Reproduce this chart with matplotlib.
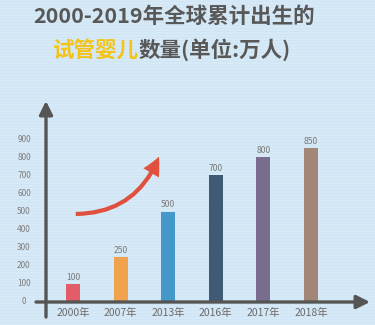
import matplotlib.pyplot as plt
from matplotlib.patches import FancyArrowPatch

plt.rcParams['font.family'] = ['Noto Sans CJK SC', 'DejaVu Sans']

# data
years = ['2000年', '2007年', '2013年', '2016年', '2017年', '2018年']
babies = [100, 250, 500, 700, 800, 850]
colors = ['#e35d68', '#f0a24c', '#4599ca', '#3f5a74', '#786c8f', '#a28676']
yticks = [0, 100, 200, 300, 400, 500, 600, 700, 800, 900]

W, H = 375, 325
bg = '#d6e9f6'
fig = plt.figure(figsize=(W / 100, H / 100), dpi=100)
fig.patch.set_facecolor(bg)

# faint horizontal stripes like the original background
stripes = fig.add_axes([0, 0, 1, 1])
stripes.set_xlim(0, 1)
stripes.set_ylim(0, H)
for yy in range(0, H, 3):
    stripes.axhline(yy, color='#cfe3f2', lw=0.5)
stripes.axis('off')

# axes area: x px 36..370, y px 101..317
ax = fig.add_axes([36 / W, 1 - 317 / H, 334 / W, 216 / H])
ax.set_facecolor('none')
step = 47.6
x0 = 73
ax.set_xlim((36 - x0) / step, (370 - x0) / step)
ax.set_ylim(-(317 - 302) / 0.181, (302 - 101) / 0.181)
for s in ax.spines.values():
    s.set_visible(False)
ax.set_xticks([])
ax.set_yticks([])

xs = list(range(len(years)))
ax.bar(xs, babies, width=0.29, color=colors, zorder=3)

for x, v in zip(xs, babies):
    ax.text(x, v + 12, str(v), ha='center', va='bottom', fontsize=6.2, color='#7a7a7a')
    ax.text(x, -60, years[x], ha='center', va='center', fontsize=7.5, color='#6a6a6a')

ylab_x = (24 - x0) / step
for t in yticks:
    ax.text(ylab_x, t, str(t), ha='center', va='center', fontsize=6, color='#7f7f7f')

# axis lines with arrows
xl, xr = ax.get_xlim()
yb, yt = ax.get_ylim()
yaxis_x = (46 - x0) / step
ax.annotate('', xy=(xr, 0), xytext=(xl, 0),
            arrowprops=dict(arrowstyle='-|>,head_length=0.8,head_width=0.4',
                            color='#555555', lw=2.4, shrinkA=0, shrinkB=0), zorder=4)
ax.annotate('', xy=(yaxis_x, yt), xytext=(yaxis_x, yb),
            arrowprops=dict(arrowstyle='-|>,head_length=0.8,head_width=0.4',
                            color='#555555', lw=2.4, shrinkA=0, shrinkB=0), zorder=4)

# red growth arrow
arr = FancyArrowPatch(((73 - x0) / step, (302 - 214) / 0.181),
                      ((160 - x0) / step, (302 - 154) / 0.181),
                      connectionstyle='arc3,rad=0.35',
                      arrowstyle='simple,head_length=13,head_width=13,tail_width=3',
                      color='#e0503e', lw=0, zorder=5)
ax.add_patch(arr)

# title
fig.text(174 / W, 1 - 16 / H, '2000-2019年全球累计出生的', ha='center', va='center',
         fontsize=15.5, fontweight='bold', color='#585858')
fig.text(139 / W, 1 - 50 / H, '试管婴儿', ha='right', va='center',
         fontsize=15.5, fontweight='bold', color='#f4c316')
fig.text(139 / W, 1 - 50 / H, '数量(单位:万人)', ha='left', va='center',
         fontsize=15.5, fontweight='bold', color='#585858')

fig.savefig('out.png', dpi=100, facecolor=bg)
